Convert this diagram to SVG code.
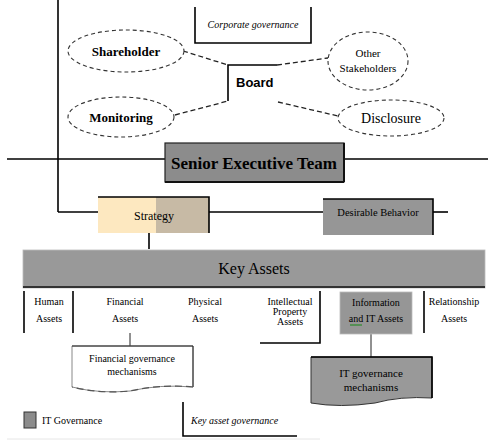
<svg xmlns="http://www.w3.org/2000/svg" width="488" height="441" viewBox="0 0 488 441">
<style>
.ln{stroke:#000;stroke-width:1.6;fill:none}
.thin{stroke:#222;stroke-width:1;fill:none}
.dash{stroke:#222;stroke-width:1.3;fill:none;stroke-dasharray:5 3}
.ell{fill:#fff;stroke:#333;stroke-width:1.1;stroke-dasharray:4 3}
.grey{fill:#969696}
.t{font-family:"Liberation Serif",serif;fill:#000;text-anchor:middle}
.sm{font-size:10px}
.eb{font-size:13px;font-weight:bold}
</style>
<rect width="488" height="441" fill="#fff"/>
<g id="connectors">
<line class="ln" x1="58" y1="0" x2="58" y2="212"/>
<line class="ln" x1="58" y1="212" x2="98" y2="212"/>
<line class="ln" x1="7" y1="159" x2="165" y2="159"/>
<line class="ln" x1="344" y1="159" x2="488" y2="159"/>
<line class="ln" x1="209" y1="212" x2="323" y2="212"/>
<line class="ln" x1="433" y1="212" x2="448" y2="212"/>
<line class="ln" x1="149" y1="233" x2="149" y2="249"/>
<line class="dash" x1="183" y1="51" x2="228" y2="65"/>
<line class="dash" x1="277" y1="65" x2="328" y2="58"/>
<line class="dash" x1="175" y1="115" x2="228" y2="101"/>
<line class="dash" x1="278" y1="102" x2="338" y2="116"/>
<line class="thin" x1="130" y1="333" x2="130" y2="346"/>
<line class="thin" x1="371" y1="334" x2="371" y2="357"/>
</g>
<g id="corporate-governance">
<polyline class="ln" points="195,7 195,43 311,43 311,7"/>
<text class="t" x="253" y="28" font-size="10" font-style="italic">Corporate governance</text>
</g>
<g id="shareholder">
<ellipse class="ell" cx="126" cy="51" rx="58" ry="21"/>
<text class="t eb" x="126" y="56">Shareholder</text>
</g>
<g id="other-stakeholders">
<ellipse class="ell" cx="368" cy="61" rx="40" ry="29"/>
<text class="t" x="368" y="57" font-size="11">Other</text>
<text class="t" x="368" y="72" font-size="11">Stakeholders</text>
</g>
<g id="monitoring">
<ellipse class="ell" cx="121" cy="117" rx="53" ry="20"/>
<text class="t eb" x="121" y="122">Monitoring</text>
</g>
<g id="disclosure">
<ellipse class="ell" cx="391" cy="118" rx="53" ry="18"/>
<text class="t" x="391" y="123" font-size="14">Disclosure</text>
</g>
<g id="board">
<polyline class="ln" points="228,101 228,65 277,65"/>
<text x="236" y="87" font-family="Liberation Sans,sans-serif" font-weight="bold" font-size="13">Board</text>
</g>
<g id="senior-executive-team">
<rect x="165" y="143" width="179" height="39" fill="#8c8c8c" stroke="#222" stroke-width="1.2"/>
<line x1="165" y1="182" x2="344" y2="182" stroke="#111" stroke-width="2"/>
<line x1="344" y1="143" x2="344" y2="182" stroke="#111" stroke-width="2"/>
<text class="t" x="254" y="169" font-size="17" font-weight="bold">Senior Executive Team</text>
</g>
<g id="strategy">
<rect x="98" y="197" width="58" height="36" fill="#fde8c0"/>
<rect x="156" y="197" width="53" height="36" fill="#c7baa5"/>
<polyline class="ln" points="98,197 209,197 209,233"/>
<text class="t" x="154" y="220" font-size="12">Strategy</text>
</g>
<g id="desirable-behavior">
<rect x="323" y="199" width="110" height="36" class="grey"/>
<polyline class="ln" points="323,199 433,199 433,235"/>
<text class="t" x="378" y="216" font-size="10.5">Desirable Behavior</text>
</g>
<g id="key-assets">
<rect x="23" y="250" width="462" height="38" fill="#999" stroke="#bbb" stroke-width="0.8"/>
<line x1="23" y1="287" x2="485" y2="287" stroke="#333" stroke-width="2.2"/>
<text class="t" x="254" y="274" font-size="16">Key Assets</text>
</g>
<g id="human-assets">
<line class="ln" x1="24" y1="291" x2="24" y2="333"/>
<line class="ln" x1="73" y1="291" x2="73" y2="333"/>
<text class="t sm" x="49" y="305">Human</text>
<text class="t sm" x="49" y="322">Assets</text>
</g>
<g id="financial-assets">
<text class="t sm" x="125" y="305">Financial</text>
<text class="t sm" x="125" y="322">Assets</text>
</g>
<g id="physical-assets">
<text class="t sm" x="205" y="305">Physical</text>
<text class="t sm" x="205" y="322">Assets</text>
</g>
<g id="intellectual-property-assets">
<polyline class="ln" points="320,291 320,343 260,343"/>
<text class="t sm" x="290" y="305">Intellectual</text>
<text class="t sm" x="290" y="315">Property</text>
<text class="t sm" x="290" y="325">Assets</text>
</g>
<g id="information-it-assets">
<rect x="340" y="292" width="72" height="42" class="grey" stroke="#bbb" stroke-width="0.8"/>
<text class="t sm" x="376" y="306">Information</text>
<text class="t sm" x="376" y="322">and IT Assets</text>
<line x1="350" y1="325" x2="362" y2="325" stroke="#2a8a2a" stroke-width="1.2"/>
</g>
<g id="relationship-assets">
<line class="ln" x1="424" y1="291" x2="424" y2="333"/>
<text class="t sm" x="454" y="305">Relationship</text>
<text class="t sm" x="454" y="322">Assets</text>
</g>
<g id="financial-governance">
<path d="M72,346 L193,346 L193,387 Q160,384 130,391 Q100,394 72,387 Z" fill="#fff" stroke="#888" stroke-width="1"/>
<polyline class="thin" points="72,346 193,346 193,387"/>
<path d="M193,387 Q160,384 130,391 Q100,394 72,387" fill="none" stroke="#555" stroke-width="1.2" stroke-dasharray="7 4"/>
<text class="t sm" x="132" y="362">Financial governance</text>
<text class="t sm" x="132" y="375">mechanisms</text>
</g>
<g id="it-governance-mechanisms">
<path d="M311,357 L432,357 L432,398 Q400,396 375,403 Q340,408 311,403 Z" fill="#999" stroke="#333" stroke-width="1"/>
<polyline class="ln" points="311,357 432,357 432,398"/>
<text class="t" x="371" y="377" font-size="11">IT governance</text>
<text class="t" x="371" y="391" font-size="11">mechanisms</text>
</g>
<g id="legend">
<rect x="24" y="412" width="12" height="16" fill="#8c8c8c" stroke="#333" stroke-width="1"/>
<text x="42" y="424" font-family="Liberation Serif,serif" font-size="10">IT Governance</text>
</g>
<g id="key-asset-governance">
<polyline class="ln" points="183,402 183,436 297,436"/>
<text x="191" y="424" font-family="Liberation Serif,serif" font-size="10" font-style="italic">Key asset governance</text>
</g>
<line x1="7" y1="439" x2="320" y2="439" stroke="#e6e6e6" stroke-width="1"/>
</svg>
